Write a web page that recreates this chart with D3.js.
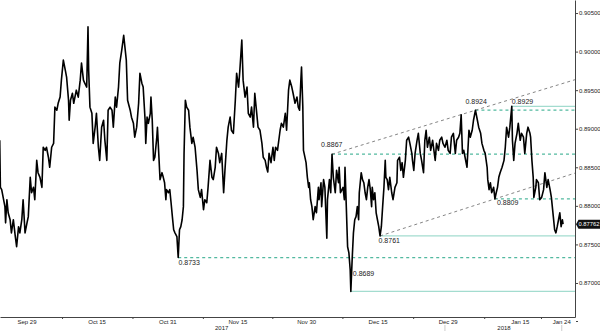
<!DOCTYPE html>
<html>
<head>
<meta charset="utf-8">
<script src="https://cdnjs.cloudflare.com/ajax/libs/d3/7.8.5/d3.min.js"></script>
<style>
body { margin: 0; background: #fff; }
svg { display: block; }
text { font-family: "Liberation Sans", Arial, sans-serif; }
</style>
</head>
<body>
<script>
// chart size
var w = 600;
var h = 331;
var plotRight = 575;
var axisY = 317;

// x = trading day counted from Sep 29 (weekends removed), y = EUR price
var tradingDay = [
  -4.2,-4.1,-3.9,-3.4,-3.3,-3.1,-2.9,-2.6,-2.4,-2.1,-1.8,-1.6,-1.3,-1.1,-0.8,-0.6,-0.3,0.0,0.2,0.5,
  0.7,1.0,1.2,1.5,1.7,2.0,2.3,2.5,2.8,3.0,3.3,3.5,3.8,4.1,4.3,4.6,4.8,5.1,5.3,5.6,
  5.9,6.1,6.4,6.5,6.7,7.0,7.2,7.6,7.9,8.2,8.4,8.7,8.9,9.2,9.4,9.5,9.7,10.0,10.2,10.5,
  10.7,11.0,11.2,11.5,11.8,12.0,12.3,12.5,12.8,13.1,13.3,13.6,13.8,14.1,14.3,14.6,14.9,15.3,15.5,15.9,
  16.1,16.4,16.6,16.9,17.2,17.4,17.7,17.9,18.2,18.3,18.5,18.7,19.0,19.1,19.3,19.5,19.7,20.0,20.1,20.3,
  20.5,20.8,21.0,21.2,21.4,21.5,21.8,22.0,22.2,22.4,22.6,22.8,23.1,23.3,23.5,23.7,23.9,24.1,24.2,24.4,
  24.6,24.9,25.1,25.4,25.6,25.9,26.2,26.4,26.7,26.9,27.2,27.4,27.7,27.9,28.2,28.5,28.7,29.0,29.2,29.5,
  29.7,30.0,30.3,30.5,30.8,31.0,31.3,31.5,31.8,32.1,32.3,32.6,32.8,33.1,33.3,33.6,33.9,34.1,34.4,34.6,
  34.9,35.1,35.4,35.6,35.9,36.2,36.4,36.7,36.9,37.1,37.3,37.6,37.9,38.1,38.3,38.6,39.0,39.2,39.5,39.8,
  40.0,40.3,40.5,40.8,41.0,41.3,41.6,41.8,42.0,42.2,42.3,42.5,42.6,42.7,43.0,43.2,43.4,43.5,43.7,43.9,
  44.1,44.4,44.6,44.9,45.0,45.3,45.4,45.7,45.9,46.2,46.3,46.6,46.8,47.0,47.2,47.5,47.7,48.0,48.1,48.3,
  48.7,48.9,49.0,49.2,49.4,49.6,49.8,49.9,50.1,50.3,50.5,50.7,50.9,51.1,51.2,51.5,51.7,51.9,52.1,52.3,
  52.5,52.7,52.9,53.1,53.2,53.4,53.6,53.8,54.0,54.2,54.4,54.6,54.8,55.0,55.2,55.3,55.5,55.7,55.9,56.2,
  56.4,56.7,57.0,57.1,57.4,57.6,57.8,58.0,58.3,58.5,58.8,59.0,59.3,59.4,59.6,59.8,60.1,60.3,60.6,60.8,
  61.1,61.3,61.5,61.7,62.0,62.2,62.5,62.7,62.9,63.1,63.4,63.6,63.9,64.1,64.4,64.7,64.9,65.2,65.4,65.7,
  66.0,66.2,66.5,66.7,66.9,67.1,67.3,67.5,67.8,68.1,68.3,68.6,68.8,69.1,69.4,69.6,69.9,70.1,70.4,70.6,
  70.9,71.0,71.2,71.4,71.6,71.9,72.1,72.3,72.5,72.7,72.9,73.2,73.5,73.7,73.9,74.2,74.4,74.7,74.8,75.0,
  75.2,75.5,75.7,76.0,76.2,76.5,76.7,77.0,77.2,77.5,77.6,77.8,78.0,78.1,78.4,78.5,78.8,79.0,79.3,79.6,
  79.8,80.1,80.3,80.6,80.8,81.1,81.3,81.5,81.7,81.9,82.1,82.3,82.5,82.6
];
var close = [
  .8885,.8824,.8821,.8799,.8778,.8808,.8791,.8782,.8765,.8782,.8760,.8747,.8773,.8765,.8782,.8808,.8765,.8778,.8786,.8837,
  .8817,.8824,.8808,.8859,.8843,.8837,.8824,.8876,.8872,.8876,.8863,.8850,.8876,.8881,.8928,.8924,.8933,.8941,.8963,.8989,
  .8976,.8967,.8937,.8911,.8937,.8946,.8933,.8950,.8941,.8963,.8985,.8963,.8959,.8954,.9032,.8976,.8928,.8920,.8881,.8902,
  .8920,.8876,.8859,.8902,.8911,.8885,.8859,.8924,.8928,.8924,.8902,.8941,.8928,.8954,.8985,.9002,.9021,.8989,.8937,.8924,
  .8915,.8907,.8889,.8902,.8933,.8972,.8959,.8954,.8911,.8881,.8915,.8907,.8920,.8941,.8911,.8859,.8863,.8889,.8902,.8868,
  .8834,.8843,.8837,.8830,.8808,.8821,.8817,.8821,.8804,.8786,.8769,.8765,.8760,.8733,.8769,.8773,.8782,.8799,.8868,.8937,
  .8928,.8924,.8902,.8881,.8889,.8876,.8846,.8821,.8811,.8821,.8795,.8808,.8804,.8824,.8859,.8837,.8834,.8850,.8876,.8868,
  .8856,.8868,.8817,.8846,.8885,.8902,.8915,.8898,.8894,.8937,.8972,.8954,.8976,.9015,.8963,.8941,.8954,.8920,.8915,.8928,
  .8902,.8946,.8920,.8902,.8898,.8881,.8863,.8859,.8850,.8844,.8868,.8856,.8876,.8859,.8876,.8872,.8898,.8907,.8902,.8920,
  .8898,.8950,.8963,.8954,.8946,.8933,.8941,.8928,.8924,.8963,.8980,.8928,.8872,.8868,.8856,.8837,.8824,.8830,.8808,.8799,
  .8782,.8799,.8791,.8824,.8808,.8830,.8799,.8834,.8824,.8758,.8808,.8834,.8817,.8867,.8837,.8817,.8846,.8830,.8850,.8817,
  .8824,.8808,.8850,.8799,.8747,.8739,.8717,.8689,.8730,.8765,.8782,.8786,.8799,.8782,.8817,.8843,.8834,.8830,.8817,.8808,
  .8824,.8834,.8821,.8799,.8824,.8808,.8817,.8791,.8782,.8773,.8761,.8773,.8799,.8824,.8859,.8837,.8834,.8821,.8837,.8817,
  .8808,.8824,.8830,.8859,.8863,.8846,.8856,.8837,.8859,.8885,.8889,.8881,.8868,.8859,.8846,.8868,.8885,.8894,.8868,.8859,
  .8843,.8885,.8898,.8876,.8889,.8872,.8885,.8872,.8859,.8881,.8872,.8885,.8889,.8881,.8876,.8885,.8872,.8868,.8889,.8894,
  .8868,.8885,.8889,.8894,.8918,.8868,.8872,.8863,.8850,.8898,.8889,.8898,.8911,.8924,.8911,.8902,.8894,.8881,.8872,.8868,
  .8850,.8834,.8821,.8830,.8817,.8824,.8809,.8817,.8824,.8837,.8843,.8850,.8859,.8876,.8902,.8889,.8902,.8929,.8885,.8859,
  .8881,.8894,.8907,.8885,.8894,.8889,.8868,.8894,.8902,.8894,.8889,.8859,.8837,.8811,.8824,.8834,.8830,.8808,.8811,.8821,
  .8843,.8824,.8834,.8821,.8811,.8786,.8769,.8765,.8773,.8782,.8791,.8773,.8782,.87762
];

// axis labels
var tickDays = [0, 10.8, 21.7, 32.5, 43.1, 54.1, 64.9, 76, 82.4];
var tickText = ["Sep 29", "Oct 15", "Oct 31", "Nov 15", "Nov 30", "Dec 15", "Dec 29", "Jan 15", "Jan 24"];
var yearDays = [30, 73.5];
var yearText = ["2017", "2018"];
var separatorDays = [64.4, 82.4];
var yTicks = [0.870, 0.875, 0.880, 0.885, 0.890, 0.895, 0.900, 0.905];

// marked highs / lows and the horizontal levels from them
var levelValues = [0.8929, 0.8924, 0.8867, 0.8809, 0.8761, 0.8733, 0.8689];
var levelFromDay = [74.7, 69.1, 47.0, 72.1, 54.4, 23.3, 49.9];
var levelKind = ["solid", "dotted", "dotted", "dotted", "solid", "dotted", "solid"];

// channel lines through two marked points each
var channelUpper = [[47.0, 0.8867], [69.1, 0.8924]];
var channelLower = [[54.4, 0.8761], [72.1, 0.8809]];

// label placement next to each marked point (same order as levelValues)
var labelDx = [0, -10, -11, 2, -1.5, 0.3, 2];
var labelDy = [-2.5, -6, -7, 6.5, 7.3, 7.5, -15.5];

var xScale = d3.scaleLinear()
  .domain([-4.16, 84.44])
  .range([0, plotRight]);

var yScale = d3.scaleLinear()
  .domain([0.86559, 0.90669])
  .range([axisY, 0]);

var svg = d3.select("body")
  .append("svg")
  .attr("width", w)
  .attr("height", h);

svg.append("clipPath")
  .attr("id", "plot")
  .append("rect")
  .attr("x", 0).attr("y", 0)
  .attr("width", plotRight).attr("height", axisY);

var plot = svg.append("g").attr("clip-path", "url(#plot)");

// horizontal levels
levelValues.forEach(function(v, i) {
  var ln = plot.append("line")
    .attr("x1", xScale(levelFromDay[i]))
    .attr("x2", plotRight)
    .attr("y1", yScale(v))
    .attr("y2", yScale(v));
  if (levelKind[i] == "solid") {
    ln.attr("stroke", "#a3dccf").attr("stroke-width", 1.2);
  } else {
    ln.attr("stroke", "#52b99f").attr("stroke-width", 1.2).attr("stroke-dasharray", "3,3");
  }
});

// channel lines, extended to the right edge
[channelUpper, channelLower].forEach(function(c) {
  var slope = (c[1][1] - c[0][1]) / (c[1][0] - c[0][0]);
  var endDay = xScale.domain()[1];
  plot.append("line")
    .attr("x1", xScale(c[0][0]))
    .attr("y1", yScale(c[0][1]))
    .attr("x2", xScale(endDay))
    .attr("y2", yScale(c[0][1] + slope * (endDay - c[0][0])))
    .attr("stroke", "#777")
    .attr("stroke-width", 0.9)
    .attr("stroke-dasharray", "3,3");
});

// price line
var dataset = d3.zip(tradingDay, close);
var line = d3.line()
  .x(function(d) { return xScale(d[0]); })
  .y(function(d) { return yScale(d[1]); });

plot.append("path")
  .datum(dataset)
  .attr("d", line)
  .attr("fill", "none")
  .attr("stroke", "#000")
  .attr("stroke-width", 1.6)
  .attr("stroke-linejoin", "round");

// labels on the marked points
levelValues.forEach(function(v, i) {
  svg.append("text")
    .attr("x", xScale(levelFromDay[i]) + labelDx[i])
    .attr("y", yScale(v) + labelDy[i])
    .attr("font-size", "7px")
    .attr("fill", "#222")
    .text(d3.format(".4f")(v));
});

// y axis on the right
var yAxis = d3.axisRight(yScale)
  .tickValues(yTicks)
  .tickFormat(d3.format(".5f"))
  .tickSize(3)
  .tickSizeOuter(0)
  .tickPadding(1);

var yg = svg.append("g")
  .attr("transform", "translate(" + plotRight + ",0)")
  .call(yAxis);
yg.select(".domain").attr("stroke", "#444");
yg.selectAll(".tick line").attr("stroke", "#444");
yg.selectAll("text").attr("font-size", "6px").attr("fill", "#222")
  .style("font-family", "'Liberation Sans', Arial, sans-serif");

// x axis line with small ticks between the labels
var midDays = [];
for (i = 0; i < tickDays.length - 1; i++) {
  midDays.push((tickDays[i] + tickDays[i + 1]) / 2);
}
var xAxis = d3.axisBottom(xScale)
  .tickValues(midDays)
  .tickFormat("")
  .tickSize(2)
  .tickSizeOuter(0);

var xg = svg.append("g")
  .attr("transform", "translate(0," + axisY + ")")
  .call(xAxis);
xg.select(".domain").attr("stroke", "#444");
xg.selectAll(".tick line").attr("stroke", "#444");

svg.selectAll("text.date")
  .data(tickDays)
  .enter()
  .append("text")
  .attr("class", "date")
  .attr("x", function(d) { return xScale(d); })
  .attr("y", 323.5)
  .attr("text-anchor", "middle")
  .attr("font-size", "6px")
  .attr("fill", "#222")
  .text(function(d, i) { return tickText[i]; });

svg.selectAll("text.year")
  .data(yearDays)
  .enter()
  .append("text")
  .attr("class", "year")
  .attr("x", function(d) { return xScale(d); })
  .attr("y", 329.5)
  .attr("text-anchor", "middle")
  .attr("font-size", "6px")
  .attr("fill", "#222")
  .text(function(d, i) { return yearText[i]; });

svg.selectAll("line.sep")
  .data(separatorDays)
  .enter()
  .append("line")
  .attr("class", "sep")
  .attr("x1", function(d) { return xScale(d); })
  .attr("x2", function(d) { return xScale(d); })
  .attr("y1", 325)
  .attr("y2", h)
  .attr("stroke", "#ccc")
  .attr("stroke-width", 1);

svg.append("line")
  .attr("x1", plotRight + 1).attr("x2", plotRight + 3)
  .attr("y1", 321.5).attr("y2", 321.5)
  .attr("stroke", "#444");

// last price tag
var last = close[close.length - 1];
var ty = yScale(last);
svg.append("path")
  .attr("d", "M" + (plotRight + 1) + "," + ty +
             " L" + (plotRight + 3.5) + "," + (ty - 4.5) +
             " L" + w + "," + (ty - 4.5) +
             " L" + w + "," + (ty + 4.5) +
             " L" + (plotRight + 3.5) + "," + (ty + 4.5) + " Z")
  .attr("fill", "#111");
svg.append("text")
  .attr("x", plotRight + 3.5)
  .attr("y", ty + 2.1)
  .attr("font-size", "5.8px")
  .attr("fill", "#fff")
  .text(d3.format(".5f")(last));
</script>
</body>
</html>
